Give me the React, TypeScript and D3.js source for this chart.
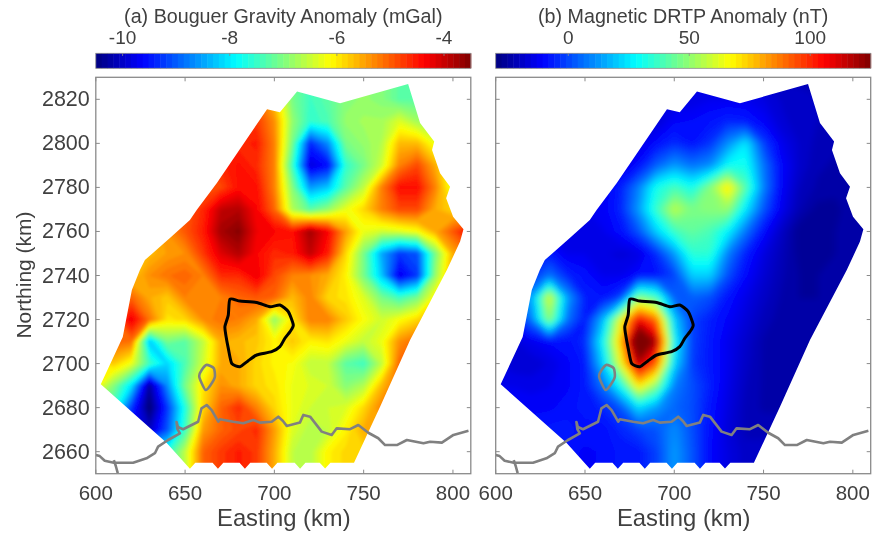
import React from "react";
import * as d3 from "d3";

const eastings = d3.range(600, 820, 10);
const northings = d3.range(2830, 2640, -10);

const gravity: number[][] = [
  [-5,-5,-5,-5,-5,-5,-5,-5,-5,-5,-5.6,-7,-7.4,-7.2,-6.9,-6.8,-6.9,-7.2,-7.2,-7.2,-7.2,-7.2],
  [-5,-5,-5,-5,-5,-5,-5,-5,-5,-5,-5.7,-7,-7.4,-7.2,-6.9,-6.8,-6.9,-7.2,-7.2,-7.2,-7.2,-7.2],
  [-5,-5,-5,-5,-5,-5,-5,-5,-5,-4.7,-5.3,-6.8,-7.5,-7.3,-6.8,-6.7,-6.7,-6.3,-6.7,-6.8,-6.8,-6.8],
  [-5,-5,-5,-5,-5,-5,-5,-5,-4.6,-4.5,-5.2,-7,-9.3,-8.6,-7,-6.8,-6.6,-5.6,-5.6,-6.2,-6.4,-6.4],
  [-5,-5,-5,-5,-5,-5,-4.7,-4.6,-4.4,-4.6,-5.2,-7.4,-9.8,-9.5,-7.5,-7,-6.4,-5.2,-4.8,-5.5,-6.3,-6.3],
  [-5,-5,-5,-5,-5,-5,-4.9,-4.8,-4.4,-4.4,-5.2,-6.9,-8.5,-8.2,-7.2,-6.5,-5.2,-4.4,-4.4,-5.2,-6.3,-6.3],
  [-5.5,-5.5,-5.5,-5.5,-5.2,-4.9,-4.6,-3.9,-3.8,-4.3,-5,-6.6,-7.2,-6.8,-6.2,-5.8,-5.2,-4.8,-4.8,-5.5,-5.8,-5.8],
  [-5.6,-5.6,-5.6,-5.6,-5.3,-4.9,-4.5,-3.7,-3.5,-4.2,-4.3,-4.4,-3.7,-4.3,-5.4,-6.2,-6.4,-6.3,-6.1,-5.5,-4.9,-4.2],
  [-5.6,-5.6,-5.6,-5.6,-5.4,-5.3,-4.7,-4.1,-3.8,-4.3,-4.6,-4.5,-3.9,-4.5,-5.8,-7,-8.4,-9.2,-9,-7,-5.5,-5],
  [-5.7,-5.7,-5.7,-5.3,-5.1,-5,-5.2,-4.6,-4.6,-4.2,-4.8,-5.2,-5.3,-5.5,-6,-7,-8.2,-9.7,-9.2,-6.8,-5.4,-5],
  [-5,-5,-5,-5.5,-5.7,-5.2,-5.2,-5.2,-5,-4.9,-5,-5.6,-5.2,-5.8,-5.9,-6.3,-7,-7.4,-7,-6,-5.5,-5.5],
  [-5,-5,-4.2,-5.1,-5.9,-5.8,-5.3,-5.1,-5.2,-5.5,-6.8,-5.9,-5.2,-5.2,-5.7,-6.1,-6.4,-6.1,-5.8,-5.5,-5.5,-5.5],
  [-5,-5,-5.1,-8.2,-7,-7.2,-6.5,-5.5,-5.6,-5.7,-6,-5.7,-6,-5.9,-6.2,-6.5,-6.2,-5.3,-5,-5,-5,-5],
  [-6,-5.7,-6.2,-7.4,-8.1,-7.3,-6.4,-5.5,-5.5,-5.8,-6,-6.1,-6.5,-6.5,-7.2,-7.4,-6.5,-5,-5,-5,-5,-5],
  [-6,-6.9,-8,-10.2,-8.6,-7,-5.9,-5.3,-5.5,-5.8,-5.9,-6.2,-6.3,-6.4,-6.9,-6.6,-5.6,-5,-5,-5,-5,-5],
  [-7,-7.5,-9.2,-10.5,-9.2,-7.6,-5.8,-5,-4.6,-5.2,-5.8,-6.2,-6.4,-6.4,-6.3,-5.8,-5.2,-5,-5,-5,-5,-5],
  [-8,-8.5,-9.6,-10,-9,-7.4,-5.4,-5,-4.8,-4.6,-5.4,-6.3,-6.6,-6.5,-6,-5.5,-5.5,-5.5,-5.5,-5.5,-5.5,-5.5],
  [-8,-8,-8,-8,-7.6,-6.5,-5,-4.7,-4.5,-4.7,-5.5,-6.5,-6.6,-6,-5.8,-5.8,-5.8,-5.8,-5.8,-5.8,-5.8,-5.8],
  [-8,-8,-8,-8,-7.6,-6.5,-5,-4.7,-4.5,-4.7,-5.5,-6.5,-6.6,-6,-5.8,-5.8,-5.8,-5.8,-5.8,-5.8,-5.8,-5.8],
];

const magnetic: number[][] = [
  [-12,-12,-12,-12,-12,-12,-12,-12,-12,-14,-14,-14,-13,-12,-14,-18,-20,-20,-20,-20,-20,-20],
  [-12,-12,-12,-12,-12,-12,-12,-12,-12,-14,-14,-14,-12,-12,-12,-14,-17,-18,-19,-20,-20,-20],
  [-12,-12,-12,-12,-12,-12,-12,-12,-13,-16,-10,-9,-7,-4,-6,-10,-16,-18,-19,-20,-20,-20],
  [-12,-12,-12,-12,-12,-12,-12,-13,-13,-8,-3,-7,-2,12,26,0,-12,-17,-20,-21,-21,-21],
  [-12,-12,-12,-12,-12,-12,-12,-13,-8,5,14,8,12,30,32,8,-9,-17,-21,-22,-22,-22],
  [-12,-12,-12,-12,-12,-12,-12,-5,10,32,40,32,50,72,42,10,-10,-19,-22,-23,-22,-22],
  [-12,-12,-12,-12,-12,-12,-11,-4,14,38,58,48,50,52,26,3,-12,-21,-25,-25,-22,-22],
  [-14,-14,-14,-14,-14,-14,-12,-8,3,22,38,44,40,28,8,-8,-18,-26,-26,-24,-22,-22],
  [-6,-6,-6,-6,-12,-12,-14,-15,-14,-3,14,36,36,10,-5,-14,-20,-25,-25,-24,-22,-22],
  [-3,-3,-3,8,-4,-8,-12,-12,-8,-7,0,22,22,2,-9,-16,-21,-24,-24,-23,-22,-22],
  [15,15,15,64,15,-5,-7,0,50,40,5,5,2,-7,-13,-18,-22,-24,-24,-23,-22,-22],
  [-6,-6,8,52,8,-6,18,66,108,90,22,0,-5,-10,-15,-20,-23,-23,-23,-23,-22,-22],
  [-15,-15,-12,-9,-8,-3,30,78,150,118,30,0,-6,-12,-17,-22,-23,-23,-23,-23,-22,-22],
  [-14,-16,-16,-14,-10,-6,22,66,118,92,24,-1,-6,-12,-18,-22,-23,-23,-23,-23,-22,-22],
  [-12,-12,-13,-12,-10,-6,8,32,72,50,10,2,-5,-13,-19,-22,-22,-22,-22,-22,-22,-22],
  [-10,-10,-10,-10,-8,-6,-4,3,24,14,6,2,-7,-14,-20,-22,-22,-22,-22,-22,-22,-22],
  [-8,-8,-8,-6,-6,-8,-8,-4,0,3,12,2,-8,-15,-20,-20,-20,-20,-20,-20,-20,-20],
  [-8,-8,-8,-8,-8,-10,-9,-6,-6,0,14,3,-9,-14,-18,-18,-18,-18,-18,-18,-18,-18],
  [-8,-8,-8,-8,-8,-10,-9,-6,-6,0,14,3,-9,-14,-18,-18,-18,-18,-18,-18,-18,-18],
];

const surveyOutline: [number, number][] = [
  [602.8,2690.6],[615.1,2712.1],[620.2,2733.4],[624.7,2742.5],[627.5,2747],[641.5,2757],[652.7,2765.2],[656.6,2769.8],[667.8,2782],
  [695.9,2815.5],[703.1,2814.1],[712.7,2823.5],[736.8,2818.2],[774.9,2827],[781.6,2809.3],[789.5,2800.8],[788.3,2797],[792.8,2786.4],
  [798.4,2780.3],[796.2,2775.1],[800.1,2766.7],[805.9,2761],[804,2755.4],[796.6,2742.5],[776,2710.7],[759.2,2680.4],[744.6,2655],
  [731.4,2655],[728.4,2652.4],[725.4,2655],[717.4,2655],[714.4,2652.2],[711.4,2655],[701.7,2655],[698.7,2652.2],[695.7,2655],
  [686.5,2655],[683.5,2652.2],[680.5,2655],[671.4,2655],[668.4,2652.2],[665.4,2655],[655.7,2655],[652.7,2652.2],[639.6,2664],
];

const blackOutline: [number, number][] = [
  [675.1,2729.2],[680.7,2728.4],[690.1,2727.7],[697.5,2725.8],[703.1,2726.6],[707.8,2723.6],[710.6,2717.5],[708.7,2714.4],[705.9,2711.5],
  [703.1,2707.7],[698.5,2705.4],[690.1,2703.9],[685.2,2701.2],[680.7,2698.6],[676.1,2700.1],[674.2,2706.9],[672.9,2712.5],[672.3,2716.8],[674.2,2722.1],
];

const grayLoop: [number, number][] = [
  [657.9,2694.4],[659.3,2697.1],[662.1,2699.4],[666.1,2697.9],[666.7,2694],[664.3,2690.3],[661.5,2688],[659.3,2691.1],
];

const river: [number, number][] = [
  [600,2658.5],[602.2,2658],[605,2655.9],[610.1,2655],[615.3,2655],[620.9,2655],[628.4,2657],[633.1,2659.3],[634.9,2662.3],[640.5,2665.3],
  [647.1,2668.3],[645.7,2670.3],[645.2,2673.5],[646,2671.2],[648.9,2670.2],[657.3,2673.6],[659.2,2679.7],[662.1,2681.2],[664.9,2678.9],
  [668.6,2673.6],[669.5,2674.7],[677,2673.6],[682.6,2672.9],[688.2,2674.4],[691.9,2673.2],[698.5,2673.6],[702.2,2675.9],[704.8,2673.9],
  [706.9,2671.7],[714.3,2673.2],[716.2,2676.7],[720,2675.9],[726.5,2669.1],[732.1,2667.6],[734.9,2670.6],[742.4,2670.2],[747,2672.1],
  [752.6,2668.6],[758.2,2666.1],[762,2663],[768.6,2663],[774.2,2665.3],[783.5,2663.8],[787.2,2664.5],[793.8,2664.1],[800.3,2667.6],[808.7,2669.5],
];
const riverBranch: [number, number][] = [[610.1,2656.2],[611.2,2653.5],[612.3,2650.3]];

const xTicks = [600, 650, 700, 750, 800];
const yTicks = [2660, 2680, 2700, 2720, 2740, 2760, 2780, 2800, 2820];

const jetStops = [0, 0.125, 0.375, 0.625, 0.875, 1];
const jetColors = ["#00007f", "#0000ff", "#00ffff", "#ffff00", "#ff0000", "#7f0000"];
const jet = d3.scaleLinear<string>().domain(jetStops).range(jetColors).interpolate(d3.interpolateRgb).clamp(true);

const TEXT = "#404040";
const AXIS = "#8a8a8a";
const FONT = "'Liberation Sans', Arial, sans-serif";
const W = 375;
const PLOT_TOP = 77.3;
const PLOT_BOTTOM = 473.7;

type PanelProps = {
  id: string; left: number; title: string; grid: number[][]; domain: [number, number];
  cbTicks: number[]; showY: boolean; blur: number;
};

function Panel({ id, left, title, grid, domain, cbTicks, showY, blur }: PanelProps) {
  const x = d3.scaleLinear().domain([600, 810]).range([left, left + W]);
  const y = d3.scaleLinear().domain([2650, 2830]).range([PLOT_BOTTOM, PLOT_TOP]);
  const cb = d3.scaleLinear().domain(domain).range([left, left + W]);
  const norm = d3.scaleLinear().domain(domain).range([0, 1]);

  const flat = grid.flat();
  const thresholds = d3.range(65).map((i) => domain[0] + ((i + 0.5) / 64) * (domain[1] - domain[0]));
  const contours = d3.contours().size([eastings.length, northings.length]).smooth(true).thresholds(thresholds)(flat);
  const project = d3.geoTransform({
    point(px: number, py: number) {
      (this as any).stream.point(x(600 + (px - 0.5) * 10), y(2830 - (py - 0.5) * 10));
    },
  });
  const geo = d3.geoPath(project);
  const line = d3.line<[number, number]>().x((d) => x(d[0])).y((d) => y(d[1]));
  const closed = d3.line<[number, number]>().x((d) => x(d[0])).y((d) => y(d[1])).curve(d3.curveCardinalClosed.tension(0.4));
  const n = 64;
  const bw = W / n;

  return (
    <g>
      <defs>
        <clipPath id={`${id}-survey`}><path d={line(surveyOutline) + "Z"} /></clipPath>
        <clipPath id={`${id}-box`}><rect x={left} y={PLOT_TOP} width={W} height={PLOT_BOTTOM - PLOT_TOP} /></clipPath>
        <filter id={`${id}-blur`} x="-10%" y="-10%" width="120%" height="120%"><feGaussianBlur stdDeviation={blur} /></filter>
      </defs>
      <text x={left + W / 2} y={22.5} textAnchor="middle" fontSize={19.7} fill={TEXT}>{title}</text>
      {d3.range(n).map((i) => (
        <rect key={i} x={left + i * bw} y={53.3} width={bw + 0.5} height={15} fill={jet((i + 0.5) / n)} />
      ))}
      <rect x={left} y={53.3} width={W} height={15} fill="none" stroke={AXIS} strokeWidth={0.8} />
      {cbTicks.map((t) => (
        <g key={t}>
          <line x1={cb(t)} x2={cb(t)} y1={53.3} y2={56} stroke={AXIS} strokeWidth={0.8} />
          <text x={cb(t)} y={44} textAnchor="middle" fontSize={19} fill={TEXT}>{t}</text>
        </g>
      ))}
      <g clipPath={`url(#${id}-survey)`}>
        <g filter={`url(#${id}-blur)`}>
          <rect x={left - 20} y={PLOT_TOP - 20} width={W + 40} height={PLOT_BOTTOM - PLOT_TOP + 40} fill={jet(0)} />
          {contours.map((c, i) => (
            <path key={i} d={geo(c as any) || ""} fill={jet(norm(c.value))} />
          ))}
        </g>
      </g>
      <g clipPath={`url(#${id}-box)`} fill="none" stroke="#808080" strokeWidth={2.6} strokeLinejoin="round">
        <path d={line(river) || ""} />
        <path d={line(riverBranch) || ""} />
        <path d={closed(grayLoop) || ""} />
      </g>
      <path d={closed(blackOutline) || ""} fill="none" stroke="#000" strokeWidth={3} strokeLinejoin="round" />
      <rect x={left} y={PLOT_TOP} width={W} height={PLOT_BOTTOM - PLOT_TOP} fill="none" stroke={AXIS} strokeWidth={1.3} />
      {xTicks.map((t) => (
        <g key={t}>
          <line x1={x(t)} x2={x(t)} y1={PLOT_BOTTOM} y2={PLOT_BOTTOM - 4} stroke={AXIS} />
          <line x1={x(t)} x2={x(t)} y1={PLOT_TOP} y2={PLOT_TOP + 4} stroke={AXIS} />
          <text x={x(t)} y={499.5} textAnchor="middle" fontSize={20.5} fill={TEXT}>{t}</text>
        </g>
      ))}
      {yTicks.map((t) => (
        <g key={t}>
          <line x1={left} x2={left + 4} y1={y(t)} y2={y(t)} stroke={AXIS} />
          <line x1={left + W} x2={left + W - 4} y1={y(t)} y2={y(t)} stroke={AXIS} />
          {showY && <text x={left - 6} y={y(t) + 7} textAnchor="end" fontSize={21.5} fill={TEXT}>{t}</text>}
        </g>
      ))}
      <text x={left + W / 2 + 0.5} y={525.7} textAnchor="middle" fontSize={23.8} fill={TEXT}>Easting (km)</text>
      {showY && (
        <text transform="translate(31,275) rotate(-90)" textAnchor="middle" fontSize={21} fill={TEXT}>Northing (km)</text>
      )}
    </g>
  );
}

export default function App() {
  return (
    <svg
      width={873}
      height={533}
      viewBox="0 0 873 533"
      style={{ position: "absolute", left: 0, top: 0, fontFamily: FONT, filter: "blur(0.45px)", background: "#fff" }}
    >
      <Panel id="a" left={95.8} title="(a) Bouguer Gravity Anomaly (mGal)" grid={gravity} domain={[-10.5, -3.5]} cbTicks={[-10, -8, -6, -4]} showY blur={1.6} />
      <Panel id="b" left={495.7} title="(b) Magnetic DRTP Anomaly (nT)" grid={magnetic} domain={[-30, 125]} cbTicks={[0, 50, 100]} showY={false} blur={3.2} />
    </svg>
  );
}
